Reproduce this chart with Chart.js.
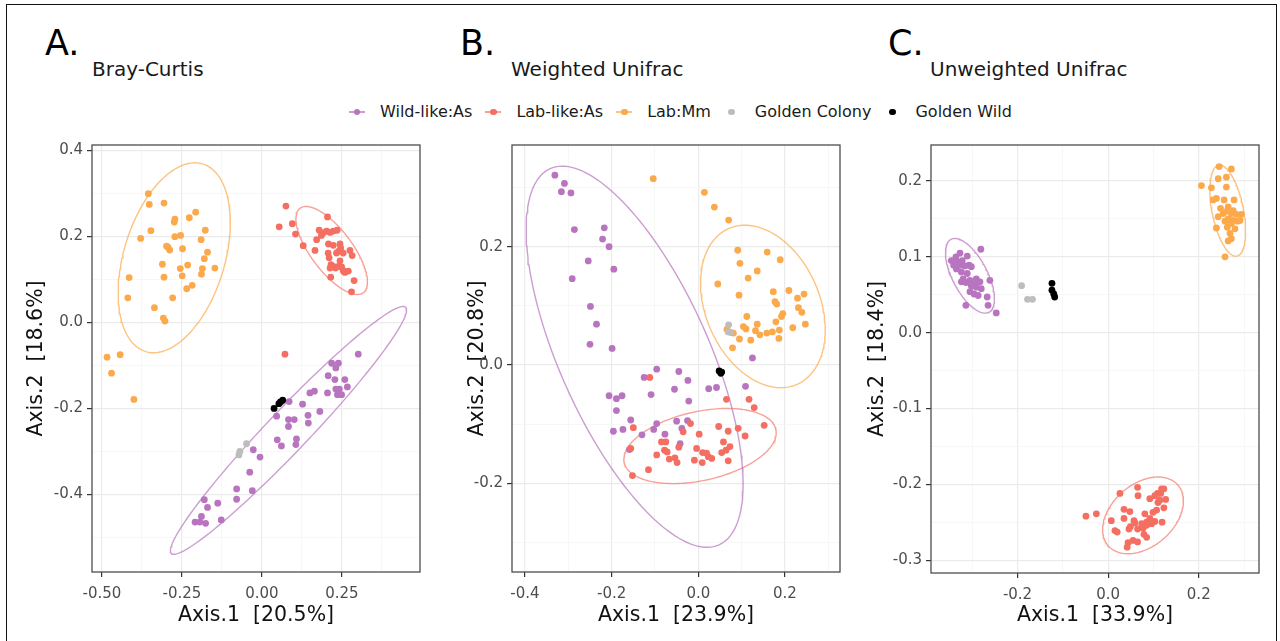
<!DOCTYPE html>
<html>
<head>
<meta charset="utf-8">
<script src="https://cdn.jsdelivr.net/npm/chart.js@4.4.0/dist/chart.umd.min.js"></script>
<style>
  body { margin: 0; background: #fff; width: 1280px; height: 641px; overflow: hidden; position: relative; font-family: "DejaVu Sans", sans-serif; }
  .frame { position: absolute; left: 6px; top: 4px; width: 1269px; height: 680px; border: 1.5px solid #111; }
  .letter { position: absolute; font-size: 35px; line-height: 1; color: #000; }
  .title { position: absolute; font-size: 20px; line-height: 1; color: #1a1a1a; }
  canvas { position: absolute; }
  #legend { position: absolute; left: 345px; top: 104px; display: flex; align-items: center; font-size: 16px; line-height: 1; color: #1a1a1a; }
  .item { display: flex; align-items: center; margin-right: 9px; }
  .key { position: relative; width: 24px; height: 16px; margin-right: 11px; }
  .key .ln { position: absolute; left: 4px; right: 4px; top: 7.4px; height: 1.2px; }
  .key .dot { position: absolute; left: 8.6px; top: 4.6px; width: 6.8px; height: 6.8px; border-radius: 50%; }
</style>
</head>
<body>
<div class="frame"></div>

<div class="letter" style="left:45px; top:26px">A.</div>
<div class="title" style="left:92px; top:59px">Bray-Curtis</div>
<div class="letter" style="left:460px; top:26px">B.</div>
<div class="title" style="left:511px; top:59px">Weighted Unifrac</div>
<div class="letter" style="left:888px; top:26px">C.</div>
<div class="title" style="left:930px; top:59px">Unweighted Unifrac</div>

<div id="legend"></div>

<canvas id="bc" width="420" height="511" style="left:10px; top:130px"></canvas>
<canvas id="wu" width="410" height="511" style="left:440px; top:130px"></canvas>
<canvas id="uu" width="409" height="511" style="left:860px; top:130px"></canvas>

<script>
// groups, in legend order
const groups = ["Wild-like:As", "Lab-like:As", "Lab:Mm", "Golden Colony", "Golden Wild"];
const pointColors = ["#b874bf", "#f46e61", "#fca94b", "#bdbdbd", "#000000"];
const ellipseColors = ["rgba(184,116,191,0.7)", "rgba(244,110,97,0.65)", "rgba(252,169,75,0.7)"];

// ---- Bray-Curtis ordination (Axis.1, Axis.2) ----
const bcWild = [[0.301,-0.074],[0.218,-0.095],[0.239,-0.095],[0.231,-0.106],[0.207,-0.124],[0.228,-0.133],
  [0.259,-0.133],[0.231,-0.155],[0.242,-0.155],[0.267,-0.150],[0.236,-0.168],[0.249,-0.168],[0.205,-0.164],
  [0.150,-0.164],[0.164,-0.160],[0.181,-0.207],[0.127,-0.190],[0.085,-0.184],[0.046,-0.218],[0.083,-0.226],
  [0.101,-0.226],[0.144,-0.216],[0.083,-0.242],[0.145,-0.234],[0.048,-0.273],[0.061,-0.287],[0.108,-0.271],
  [0.106,-0.284],[-0.027,-0.296],[-0.006,-0.313],[-0.038,-0.348],[-0.079,-0.387],[-0.030,-0.391],[-0.079,-0.411],
  [-0.180,-0.412],[-0.170,-0.430],[-0.138,-0.420],[-0.189,-0.451],[-0.209,-0.464],[-0.194,-0.464],[-0.176,-0.467],
  [-0.127,-0.459]];
const bcLab = [[0.075,0.270],[0.054,0.222],[0.095,0.229],[0.105,0.205],[0.129,0.178],[0.205,0.245],[0.179,0.214],
  [0.192,0.208],[0.186,0.202],[0.202,0.212],[0.213,0.209],[0.223,0.212],[0.235,0.214],[0.171,0.192],[0.166,0.167],
  [0.208,0.182],[0.223,0.179],[0.244,0.182],[0.246,0.173],[0.239,0.165],[0.207,0.161],[0.233,0.161],[0.254,0.161],
  [0.275,0.167],[0.282,0.155],[0.210,0.150],[0.244,0.143],[0.216,0.134],[0.223,0.130],[0.230,0.126],[0.213,0.126],
  [0.239,0.130],[0.249,0.129],[0.254,0.120],[0.259,0.116],[0.270,0.119],[0.215,0.105],[0.288,0.097],[0.280,0.071],
  [0.072,-0.074]];
const bcMm = [[-0.355,0.299],[-0.352,0.274],[-0.306,0.277],[-0.272,0.240],[-0.274,0.233],[-0.227,0.243],[-0.207,0.256],
  [-0.347,0.213],[-0.379,0.195],[-0.177,0.214],[-0.272,0.199],[-0.254,0.202],[-0.298,0.177],[-0.293,0.174],
  [-0.288,0.168],[-0.248,0.171],[-0.190,0.192],[-0.170,0.163],[-0.415,0.104],[-0.311,0.135],[-0.232,0.133],
  [-0.255,0.125],[-0.186,0.125],[-0.147,0.126],[-0.180,0.148],[-0.306,0.105],[-0.249,0.108],[-0.189,0.112],
  [-0.218,0.086],[-0.235,0.078],[-0.419,0.057],[-0.279,0.057],[-0.336,0.034],[-0.308,0.010],[-0.303,0.003],
  [-0.484,-0.081],[-0.443,-0.075],[-0.470,-0.118],[-0.400,-0.179]];
const bcColony = [[-0.069,-0.300],[-0.048,-0.282],[-0.072,-0.308]];
const bcGoldenWild = [[0.038,-0.200],[0.053,-0.189],[0.058,-0.185],[0.065,-0.181]];
// ellipses: centre, first half-diameter, conjugate half-diameter
const bcEllipses = [[0.083,-0.251,0.366,0.286,0.047,-0.033],
                    [0.218,0.167,0.099,-0.098,0.052,0.029],
                    [-0.274,0.150,0.089,0.218,0.151,-0.034]];

// ---- Weighted Unifrac ----
const wuWild = [[-0.331,0.321],[-0.309,0.307],[-0.316,0.293],[-0.294,0.291],[-0.286,0.229],[-0.217,0.232],
  [-0.221,0.213],[-0.206,0.200],[-0.254,0.176],[-0.195,0.162],[-0.291,0.146],[-0.249,0.099],[-0.235,0.069],
  [-0.250,0.035],[-0.199,0.028],[-0.096,-0.007],[-0.125,-0.021],[-0.045,-0.011],[-0.024,-0.026],[-0.055,-0.041],
  [-0.109,-0.050],[-0.022,-0.061],[0.024,-0.040],[0.042,-0.038],[0.109,-0.036],[0.125,0.012],[-0.206,-0.052],
  [-0.189,-0.057],[-0.176,-0.052],[-0.189,-0.077],[-0.156,-0.093],[-0.196,-0.112],[-0.174,-0.109],[-0.130,-0.118],
  [-0.103,-0.109],[-0.096,-0.099],[-0.050,-0.095],[-0.025,-0.094],[-0.038,-0.107],[-0.077,-0.117],[-0.042,-0.133],
  [-0.159,-0.143]];
const wuLab = [[-0.112,-0.021],[-0.150,-0.106],[-0.018,-0.099],[-0.035,-0.113],[0.002,-0.117],[0.047,-0.104],
  [0.069,-0.112],[0.092,-0.107],[0.108,-0.120],[0.152,-0.102],[0.065,-0.058],[0.117,-0.058],[0.129,-0.072],
  [-0.085,-0.130],[-0.075,-0.130],[-0.078,-0.144],[-0.072,-0.147],[-0.096,-0.152],[-0.067,-0.159],[-0.054,-0.157],
  [-0.049,-0.165],[-0.045,-0.139],[-0.004,-0.141],[0.010,-0.148],[0.019,-0.149],[0.031,-0.158],[0.023,-0.155],
  [0.009,-0.165],[-0.009,-0.161],[0.058,-0.130],[0.054,-0.148],[0.064,-0.144],[0.073,-0.138],[0.069,-0.162],
  [-0.115,-0.177],[-0.152,-0.187],[-0.156,-0.141]];
const wuMm = [[-0.104,0.315],[0.014,0.292],[0.037,0.267],[0.070,0.245],[0.091,0.194],[0.096,0.172],[0.159,0.191],
  [0.189,0.178],[0.045,0.137],[0.115,0.147],[0.136,0.159],[0.094,0.118],[0.173,0.124],[0.209,0.126],[0.177,0.107],
  [0.181,0.103],[0.229,0.113],[0.244,0.120],[0.231,0.097],[0.239,0.089],[0.195,0.087],[0.192,0.082],[0.112,0.082],
  [0.179,0.073],[0.247,0.069],[0.218,0.063],[0.136,0.069],[0.104,0.065],[0.110,0.061],[0.132,0.058],[0.142,0.051],
  [0.158,0.054],[0.171,0.056],[0.187,0.059],[0.186,0.045],[0.095,0.044],[0.121,0.042],[0.079,0.029],[0.066,0.060],
  [0.081,0.054]];
const wuColony = [[0.070,0.068],[0.075,0.055],[0.069,0.056]];
const wuGoldenWild = [[0.048,-0.010],[0.054,-0.012],[0.052,-0.014]];
const wuEllipses = [[-0.147,0.014,-0.195,0.318,0.157,0.052],
                    [0.004,-0.137,0.175,0.028,0.017,-0.057],
                    [0.149,0.099,0.078,-0.132,0.121,0.038]];

// ---- Unweighted Unifrac ----
const uuWild = [[-0.327,0.105],[-0.311,0.101],[-0.336,0.100],[-0.346,0.095],[-0.333,0.093],[-0.322,0.095],
  [-0.307,0.089],[-0.316,0.088],[-0.302,0.087],[-0.335,0.084],[-0.324,0.080],[-0.311,0.078],[-0.291,0.071],
  [-0.320,0.071],[-0.305,0.069],[-0.324,0.067],[-0.314,0.066],[-0.294,0.065],[-0.283,0.067],[-0.302,0.062],
  [-0.280,0.058],[-0.291,0.060],[-0.305,0.054],[-0.296,0.051],[-0.287,0.049],[-0.267,0.047],[-0.261,0.069],
  [-0.281,0.110],[-0.314,0.036],[-0.265,0.036],[-0.247,0.026],[-0.327,0.089],[-0.341,0.089]];
const uuLab = [[0.065,-0.204],[0.026,-0.212],[0.066,-0.215],[0.118,-0.206],[0.123,-0.206],[0.109,-0.212],
  [0.103,-0.215],[0.116,-0.212],[0.127,-0.220],[0.092,-0.219],[0.110,-0.224],[0.114,-0.221],[0.035,-0.233],
  [0.048,-0.236],[0.123,-0.231],[0.107,-0.234],[0.099,-0.237],[0.081,-0.239],[0.035,-0.245],[0.007,-0.248],
  [0.057,-0.248],[0.092,-0.245],[0.103,-0.249],[0.119,-0.250],[0.085,-0.250],[0.074,-0.252],[0.059,-0.251],
  [0.049,-0.256],[0.015,-0.261],[0.020,-0.263],[0.046,-0.259],[0.065,-0.259],[0.077,-0.258],[0.085,-0.254],
  [0.096,-0.252],[0.055,-0.274],[0.044,-0.277],[0.065,-0.276],[0.085,-0.270],[0.079,-0.266],[0.042,-0.283],
  [-0.049,-0.242],[-0.026,-0.239]];
const uuMm = [[0.245,0.219],[0.272,0.216],[0.206,0.194],[0.243,0.203],[0.261,0.205],[0.228,0.191],[0.261,0.192],
  [0.232,0.175],[0.239,0.177],[0.256,0.175],[0.278,0.175],[0.248,0.164],[0.265,0.166],[0.276,0.161],[0.261,0.160],
  [0.272,0.157],[0.254,0.157],[0.283,0.156],[0.243,0.153],[0.294,0.156],[0.265,0.150],[0.258,0.147],[0.276,0.148],
  [0.286,0.147],[0.272,0.144],[0.291,0.148],[0.239,0.138],[0.263,0.139],[0.280,0.137],[0.269,0.131],[0.272,0.124],
  [0.265,0.121],[0.258,0.100]];
const uuColony = [[-0.191,0.062],[-0.178,0.044],[-0.167,0.044]];
const uuGoldenWild = [[-0.124,0.065],[-0.124,0.056],[-0.120,0.051],[-0.118,0.047]];
const uuEllipses = [[-0.305,0.075,0.042,-0.048,0.034,0.011],
                    [0.077,-0.241,0.077,0.040,0.045,-0.031],
                    [0.264,0.161,0.020,-0.060,0.034,0.004]];

// axis ranges, major ticks and their labels
const bcXRange = [-0.531, 0.494], bcXTicks = [-0.5, -0.25, 0, 0.25], bcXLabels = ["-0.50", "-0.25", "0.00", "0.25"];
const bcYRange = [-0.580, 0.412], bcYTicks = [-0.4, -0.2, 0, 0.2, 0.4], bcYLabels = ["-0.4", "-0.2", "0.0", "0.2", "0.4"];
const wuXRange = [-0.430, 0.327], wuXTicks = [-0.4, -0.2, 0, 0.2], wuXLabels = ["-0.4", "-0.2", "0.0", "0.2"];
const wuYRange = [-0.350, 0.372], wuYTicks = [-0.2, 0, 0.2], wuYLabels = ["-0.2", "0.0", "0.2"];
const uuXRange = [-0.391, 0.333], uuXTicks = [-0.2, 0, 0.2], uuXLabels = ["-0.2", "0.0", "0.2"];
const uuYRange = [-0.317, 0.2475], uuYTicks = [-0.3, -0.2, -0.1, 0, 0.1, 0.2], uuYLabels = ["-0.3", "-0.2", "-0.1", "0.0", "0.1", "0.2"];

const axisTitles = {
  bc: ["Axis.1  [20.5%]", "Axis.2  [18.6%]"],
  wu: ["Axis.1  [23.9%]", "Axis.2  [20.8%]"],
  uu: ["Axis.1  [33.9%]", "Axis.2  [18.4%]"]
};

// legend
const legendEl = document.getElementById("legend");
groups.forEach((g, i) => {
  const item = document.createElement("div");
  item.className = "item";
  const key = document.createElement("div");
  key.className = "key";
  const ln = document.createElement("div");
  ln.className = "ln";
  ln.style.background = i < 3 ? ellipseColors[i] : "rgba(0,0,0,0)";
  const dot = document.createElement("div");
  dot.className = "dot";
  dot.style.background = pointColors[i];
  key.appendChild(ln);
  key.appendChild(dot);
  const txt = document.createElement("span");
  txt.textContent = g;
  item.appendChild(key);
  item.appendChild(txt);
  legendEl.appendChild(item);
});

const ellipsePath = (e) => {
  const [cx, cy, ux, uy, vx, vy] = e;
  const pts = [];
  for (let i = 0; i <= 160; i++) {
    const t = i / 160 * 2 * Math.PI;
    pts.push({ x: cx + ux * Math.cos(t) + vx * Math.sin(t), y: cy + uy * Math.cos(t) + vy * Math.sin(t) });
  }
  return pts;
};

// major ticks plus the half-step minor lines between and beyond them
const buildTicks = (range, majors) => {
  const step = majors[1] - majors[0];
  const out = [];
  for (let v = majors[0] - step / 2; v <= range[1] + 1e-9; v += step / 2) {
    if (v < range[0] - 1e-9) continue;
    const r = Math.round(v * 10000) / 10000;
    const idx = majors.findIndex(m => Math.abs(m - r) < 1e-6);
    out.push({ value: r, minor: idx < 0, label: idx });
  }
  return out;
};

const panelBorder = {
  id: "panelBorder",
  afterDatasetsDraw(chart) {
    const { ctx, chartArea: a } = chart;
    ctx.save();
    ctx.strokeStyle = "#4d4d4d";
    ctx.lineWidth = 1.3;
    ctx.strokeRect(a.left, a.top, a.right - a.left, a.bottom - a.top);
    ctx.restore();
  }
};

const axisOpts = (range, majors, labels, titleText, fitSize, horizontal, titlePad) => ({
  type: "linear",
  min: range[0],
  max: range[1],
  afterBuildTicks: (s) => { s.ticks = buildTicks(range, majors); },
  afterFit: (s) => { if (horizontal) s.height = fitSize; else s.width = fitSize; },
  border: { display: false },
  grid: {
    color: (c) => (c.tick && c.tick.minor ? "#f3f3f3" : "#ebebeb"),
    lineWidth: (c) => (c.tick && c.tick.minor ? 0.7 : 1.2),
    tickColor: (c) => (c.tick && c.tick.minor ? "rgba(0,0,0,0)" : "#333333"),
    tickWidth: 1.2,
    tickLength: 5
  },
  ticks: {
    autoSkip: false,
    maxRotation: 0,
    minRotation: 0,
    padding: horizontal ? 8 : 4,
    color: "#4d4d4d",
    font: { family: "DejaVu Sans", size: 15 },
    callback: (v, i, ticks) => (ticks[i].minor ? "" : labels[ticks[i].label])
  },
  title: {
    display: true,
    text: titleText,
    color: "#111111",
    font: { family: "DejaVu Sans", size: 20.5 },
    padding: titlePad
  }
});

const makePanel = (id, sets, ellipses, xr, xt, xl, yr, yt, yl, titles, yWidth, xHeight, yTitlePad) => {
  const datasets = [];
  // drawn last-to-first: golden samples on top, ellipses underneath
  for (let i = sets.length - 1; i >= 0; i--) {
    datasets.push({
      label: groups[i],
      data: sets[i].map(p => ({ x: p[0], y: p[1] })),
      backgroundColor: pointColors[i],
      borderWidth: 0,
      pointRadius: 3.4,
      pointHoverRadius: 3.4
    });
  }
  ellipses.forEach((e, i) => {
    datasets.push({
      label: groups[i] + " ellipse",
      data: ellipsePath(e),
      showLine: true,
      borderColor: ellipseColors[i],
      borderWidth: 1.4,
      pointRadius: 0,
      fill: false,
      tension: 0
    });
  });
  new Chart(document.getElementById(id), {
    type: "scatter",
    data: { datasets },
    options: {
      responsive: false,
      animation: false,
      events: [],
      layout: { padding: { top: 15, right: 10, bottom: 0, left: 0 } },
      plugins: { legend: { display: false }, tooltip: { enabled: false } },
      scales: {
        x: axisOpts(xr, xt, xl, titles[0], xHeight, true, { top: 0, bottom: 13 }),
        y: axisOpts(yr, yt, yl, titles[1], yWidth, false, { top: yTitlePad, bottom: 0 })
      }
    },
    plugins: [panelBorder]
  });
};

makePanel("bc", [bcWild, bcLab, bcMm, bcColony, bcGoldenWild], bcEllipses,
  bcXRange, bcXTicks, bcXLabels, bcYRange, bcYTicks, bcYLabels, axisTitles.bc, 82, 69, 14);
makePanel("wu", [wuWild, wuLab, wuMm, wuColony, wuGoldenWild], wuEllipses,
  wuXRange, wuXTicks, wuXLabels, wuYRange, wuYTicks, wuYLabels, axisTitles.wu, 72, 69, 25);
makePanel("uu", [uuWild, uuLab, uuMm, uuColony, uuGoldenWild], uuEllipses,
  uuXRange, uuXTicks, uuXLabels, uuYRange, uuYTicks, uuYLabels, axisTitles.uu, 71, 68, 5);
</script>
</body>
</html>
